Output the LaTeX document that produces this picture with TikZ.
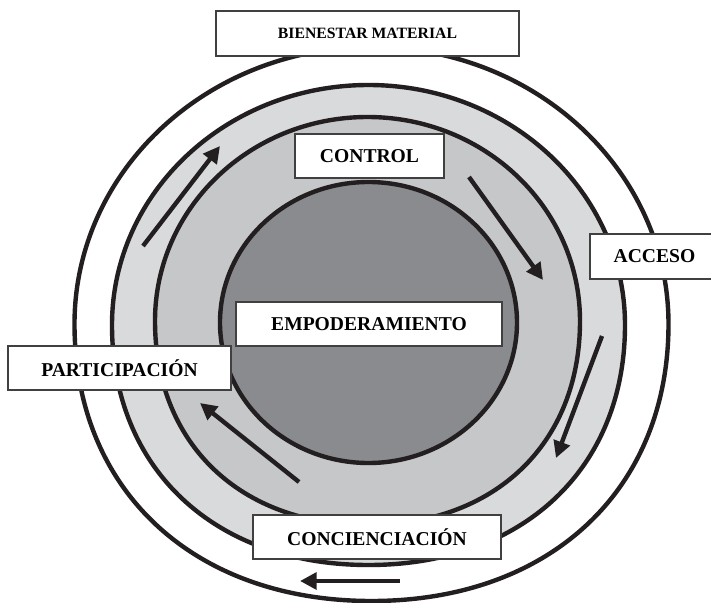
\documentclass[tikz,border=0pt]{standalone}
\usepackage{fontspec}
\setmainfont{Liberation Serif}
\usetikzlibrary{arrows.meta}

\definecolor{edge}{RGB}{35,31,32}
\definecolor{boxline}{RGB}{64,64,64}
\definecolor{ringlight}{RGB}{217,218,220}
\definecolor{ringmid}{RGB}{198,199,201}
\definecolor{core}{RGB}{138,139,143}

\tikzset{every picture/.style={line width=0.75pt},
  ring/.style={draw=edge, line width=3.3pt},
  flow/.style={draw=edge, line width=3.3pt, -{Triangle[length=12.5pt,width=12.5pt]}},
  lbl/.style={draw=boxline, fill=white, line width=1pt, inner sep=0pt, minimum height=33pt, font=\fontsize{14.7}{17}\selectfont\bfseries}}

\begin{document}
\begin{tikzpicture}[x=0.75pt,y=0.75pt,yscale=-1,xscale=1]
        \useasboundingbox (0,0) rectangle (711,603); %set diagram left start at 0, and has height of 603

        %Shape: Ellipse [id:outer]
        \draw  [ring, fill=white] (74.5,324) .. controls (74.5,171) and (207.5,47) .. (371.5,47) .. controls (535.5,47) and (668.5,171) .. (668.5,324) .. controls (668.5,490.2) and (549.7,601) .. (371.5,601) .. controls (193.3,601) and (74.5,490.2) .. (74.5,324) -- cycle ;
        %Shape: Ellipse [id:second]
        \draw  [ring, fill=ringlight] (112,325) .. controls (112,192.4) and (226.8,85) .. (368.5,85) .. controls (510.2,85) and (625,192.4) .. (625,325) .. controls (625,469) and (522.4,565) .. (368.5,565) .. controls (214.6,565) and (112,469) .. (112,325) -- cycle ;
        %Shape: Ellipse [id:third]
        \draw  [ring, fill=ringmid] (155,321) .. controls (155,208.3) and (250.1,117) .. (367.5,117) .. controls (484.9,117) and (580,208.3) .. (580,321) .. controls (580,443.4) and (495,525) .. (367.5,525) .. controls (240,525) and (155,443.4) .. (155,321) -- cycle ;
        %Shape: Ellipse [id:core]
        \draw  [ring, fill=core] (220,322.5) .. controls (220,244.9) and (286.5,182) .. (368.5,182) .. controls (450.5,182) and (517,244.9) .. (517,322.5) .. controls (517,400.1) and (450.5,463) .. (368.5,463) .. controls (286.5,463) and (220,400.1) .. (220,322.5) -- cycle ;

        %Straight Lines [id:flows]
        \draw [flow]   (143,246) -- (220,146) ;
        \draw [flow]   (469,177) -- (543,280) ;
        \draw [flow]   (602,336) -- (556,458) ;
        \draw [flow]   (400,581) -- (300,581) ;
        \draw [flow]   (299,482) -- (200,403) ;

        % Text Node
        \node [lbl, minimum width=227.25pt, minimum height=33.75pt, font=\fontsize{11.8}{14}\selectfont\bfseries] (bienestar) at (367.5,33.5) {BIENESTAR MATERIAL};
        % Text Node
        \node [lbl, minimum width=111.75pt] (control) at (369.5,156) {CONTROL};
        % Text Node
        \node [lbl, minimum width=96.75pt, minimum height=33.75pt] (acceso) at (654.5,256.5) {ACCESO};
        % Text Node
        \node [lbl, minimum width=199.5pt] (empoderamiento) at (369,324) {EMPODERAMIENTO};
        % Text Node
        \node [lbl, minimum width=167.25pt] (participacion) at (119.5,368) {PARTICIPACIÓN};
        % Text Node
        \node [lbl, minimum width=186pt] (concienciacion) at (377,537) {CONCIENCIACIÓN};

\end{tikzpicture}
\end{document}
